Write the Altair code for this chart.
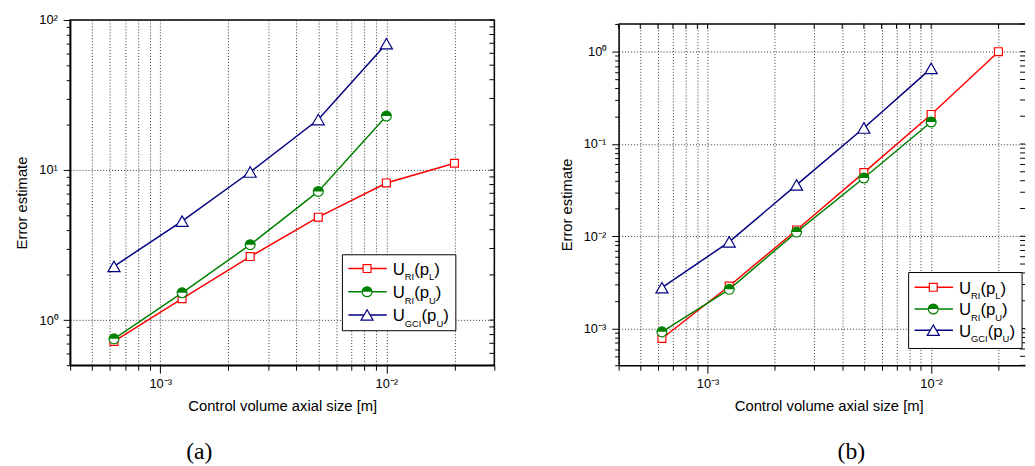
import math
import altair as alt
import pandas as pd

# ---------------- data ----------------
x_sizes = [6.25e-4, 1.25e-3, 2.5e-3, 5e-3, 1e-2, 2e-2]

a_uri_pl = [0.72, 1.39, 2.65, 4.85, 8.2, 11.1]
a_uri_pu = [0.75, 1.52, 3.18, 7.2, 22.9]
a_ugci_pu = [2.28, 4.57, 9.7, 21.7, 69.5]

b_uri_pl = [7.8e-4, 2.89e-3, 1.17e-2, 4.9e-2, 0.209, 1.0]
b_uri_pu = [9.2e-4, 2.66e-3, 1.11e-2, 4.28e-2, 0.173]
b_ugci_pu = [2.77e-3, 8.7e-3, 3.6e-2, 0.149, 0.66]

series_names = ["URI_pL", "URI_pU", "UGCI_pU"]
series_colors = ["#FF0000", "#008000", "#000080"]

a_x_domain = [4e-4, 3e-2]
b_x_domain = [4e-4, 2.63e-2]   # right panel is cut off at the image edge
a_y_domain = [0.5, 100]
b_y_domain = [4e-4, 2]

x_decade_labels = {1e-3: "10⁻³", 1e-2: "10⁻²"}
a_y_decade_labels = {1.0: "10⁰", 10.0: "10¹", 100.0: "10²"}
b_y_decade_labels = {1e-3: "10⁻³", 1e-2: "10⁻²", 1e-1: "10⁻¹", 1.0: "10⁰"}

# legend label pieces: (main, sub, main, sub, main)
legend_labels = [
    ["U", "RI", "(p", "L", ")"],
    ["U", "RI", "(p", "U", ")"],
    ["U", "GCI", "(p", "U", ")"],
]

SANS = "Liberation Sans"
SERIF = "Liberation Serif"
HALF_TOP = "M -1 0 A 1 1 0 0 1 1 0 Z"

# Arial-like advance widths (em)
CHAR_W = {"U": .722, "R": .722, "I": .278, "G": .778, "C": .722, "L": .556,
          "(": .333, ")": .333, "p": .556}


def text_w(s, size):
    return sum(CHAR_W.get(c, .55) for c in s) * size


def log_ticks(lo, hi):
    vals = []
    for e in range(int(math.floor(math.log10(lo))) - 1, int(math.ceil(math.log10(hi))) + 1):
        for m in range(1, 10):
            v = float(f"{m}e{e}")
            if lo * (1 - 1e-9) <= v <= hi * (1 + 1e-9):
                vals.append(v)
    return vals


def label_expr(labels):
    expr = "''"
    for v, t in labels.items():
        expr = f"abs(datum.value - {v!r}) < {v * 1e-6!r} ? '{t}' : " + expr
    return expr


def decade_test(labels):
    return " || ".join(f"abs(datum.value - {v!r}) < {v * 1e-6!r}" for v in labels)


one = alt.Data(values=[{"k": 1}])


def legend_layers(bx, by, rows_y, box_w=115, box_h=77):
    layers = [
        alt.Chart(one).mark_rect(fill="white", stroke="black", strokeWidth=1).encode(
            x=alt.value(bx), x2=alt.value(bx + box_w), y=alt.value(by), y2=alt.value(by + box_h))
    ]
    marks = [
        dict(shape="square", size=64),
        dict(shape="circle", size=100),
        dict(shape="triangle-up", size=150),
    ]
    MAIN, SUB = 17, 9.5
    for i, (ry, color, parts) in enumerate(zip(rows_y, series_colors, legend_labels)):
        y = by + ry
        layers.append(alt.Chart(one).mark_rule(color=color, strokeWidth=1.5).encode(
            x=alt.value(bx + 6), x2=alt.value(bx + 45), y=alt.value(y)))
        mk = marks[i]
        layers.append(alt.Chart(one).mark_point(shape=mk["shape"], size=mk["size"], filled=True,
                                                fill="white", stroke=color, strokeWidth=1.2,
                                                opacity=1).encode(
            x=alt.value(bx + 25), y=alt.value(y)))
        if i == 1:
            layers.append(alt.Chart(one).mark_point(shape=HALF_TOP, size=mk["size"], filled=True,
                                                    fill=color, strokeWidth=0, opacity=1).encode(
                x=alt.value(bx + 25), y=alt.value(y)))
        tx = bx + 51
        for j, p in enumerate(parts):
            sub = j % 2 == 1
            fs = SUB if sub else MAIN
            layers.append(alt.Chart(one).mark_text(text=p, font=SANS, fontSize=fs, align="left",
                                                   baseline="alphabetic", color="black").encode(
                x=alt.value(tx), y=alt.value(y + (12 if sub else 6.5))))
            tx += text_w(p, fs)
    return layers


def panel(ys, x_domain, y_domain, y_labels, W, H, legend_xy, rows_y, letter, letter_x,
          top_ticks_on, cut_right):
    rows = []
    for name, vals in zip(series_names, ys):
        for x, y in zip(x_sizes, vals):
            rows.append({"x": x, "y": y, "series": name})
    df = pd.DataFrame(rows)

    xs = alt.Scale(type="log", domain=x_domain, nice=False)
    ysc = alt.Scale(type="log", domain=y_domain, nice=False)
    xt = log_ticks(*x_domain)
    yt = log_ticks(*y_domain)

    xdec = decade_test(x_decade_labels)
    ydec = decade_test(y_labels)

    xaxis = alt.Axis(values=xt, labelExpr=label_expr(x_decade_labels), labelOverlap=False,
                     labelFlush=False, title="Control volume axial size [m]",
                     grid=True, gridDash=[1, 2], gridColor="#333333", gridWidth=1,
                     tickSize={"condition": {"test": xdec, "value": 8}, "value": 5},
                     labelPadding=5, titlePadding=8,
                     titleX=(426 if cut_right else W) / 2)
    yaxis = alt.Axis(values=yt, labelExpr=label_expr(y_labels), labelOverlap=False,
                     labelFlush=False, title="Error estimate",
                     grid=True, gridDash=[1, 2], gridColor="#333333", gridWidth=1,
                     gridOpacity={"condition": {"test": ydec, "value": 1}, "value": 0},
                     tickSize={"condition": {"test": ydec, "value": 7}, "value": 4},
                     labelPadding=6, titlePadding=9, titleY=H / 2 + 10)

    X = alt.X("x:Q", scale=xs, axis=xaxis)
    Y = alt.Y("y:Q", scale=ysc, axis=yaxis)
    base = alt.Chart(df).encode(x=X, y=Y)
    line = base.mark_line(strokeWidth=1.5).encode(
        color=alt.Color("series:N", scale=alt.Scale(domain=series_names, range=series_colors),
                        legend=None),
        detail="series:N",
    )
    sq = base.transform_filter(alt.datum.series == series_names[0]).mark_point(
        shape="square", size=64, filled=True, fill="white", stroke=series_colors[0],
        strokeWidth=1.2, opacity=1)
    ci = base.transform_filter(alt.datum.series == series_names[1]).mark_point(
        shape="circle", size=100, filled=True, fill="white", stroke=series_colors[1],
        strokeWidth=1.2, opacity=1)
    ci_half = base.transform_filter(alt.datum.series == series_names[1]).mark_point(
        shape=HALF_TOP, size=100, filled=True, fill=series_colors[1], strokeWidth=0, opacity=1)
    tr = base.transform_filter(alt.datum.series == series_names[2]).mark_point(
        shape="triangle-up", size=150, filled=True, fill="white", stroke=series_colors[2],
        strokeWidth=1.2, opacity=1)

    right_ticks = alt.Chart(pd.DataFrame({"y": yt})).mark_rule(color="black", strokeWidth=1).encode(
        y=Y, x=alt.value(W - 5), x2=alt.value(W))

    letter_mark = alt.Chart(one).mark_text(text=letter, font=SERIF, fontSize=24, align="center",
                                           baseline="alphabetic", color="black").encode(
        x=alt.value(letter_x), y=alt.value(H + 95))

    layers = [line, sq, ci, ci_half, tr, right_ticks]
    if top_ticks_on:
        layers.append(alt.Chart(pd.DataFrame({"x": xt})).mark_rule(color="black", strokeWidth=1).encode(
            x=X, y=alt.value(0), y2=alt.value(5)))
    if cut_right:
        layers.append(alt.Chart(one).mark_rule(color="black", strokeWidth=1.5).encode(
            x=alt.value(0), x2=alt.value(W), y=alt.value(0)))
    layers += legend_layers(legend_xy[0], legend_xy[1], rows_y) + [letter_mark]
    ch = alt.layer(*layers).properties(width=W, height=H)
    if cut_right:
        ch = ch.properties(view=alt.ViewConfig(stroke="transparent"))
    return ch


left = panel([a_uri_pl, a_uri_pu, a_ugci_pu], a_x_domain, a_y_domain, a_y_decade_labels,
             430, 350, (276, 238), [14, 37.5, 61], "(a)", 131, False, False)
right = panel([b_uri_pl, b_uri_pu, b_ugci_pu], b_x_domain, b_y_domain, b_y_decade_labels,
              412, 346, (294, 252), [15, 37, 58.5], "(b)", 236, True, True)

spacer = alt.Chart(one).mark_rect(opacity=0).encode(
    x=alt.value(0), x2=alt.value(1), y=alt.value(0), y2=alt.value(1)
).properties(width=1, height=1, view=alt.ViewConfig(stroke="transparent"))

right_col = alt.vconcat(spacer, right, spacing=-5)

chart = alt.hconcat(left, right_col, spacing=63).configure_view(
    stroke="black", strokeWidth=1.5
).configure_axis(
    domainColor="black", domainWidth=1.5, tickColor="black", tickWidth=1,
    labelFont=SANS, labelFontSize=13, labelColor="black",
    titleFont=SANS, titleFontSize=15, titleFontWeight="normal", titleColor="black",
).properties(
    padding={"left": 5, "top": 2, "right": 0, "bottom": 0}
)

chart.save("out.html", embed_options={"renderer": "svg", "actions": False})
